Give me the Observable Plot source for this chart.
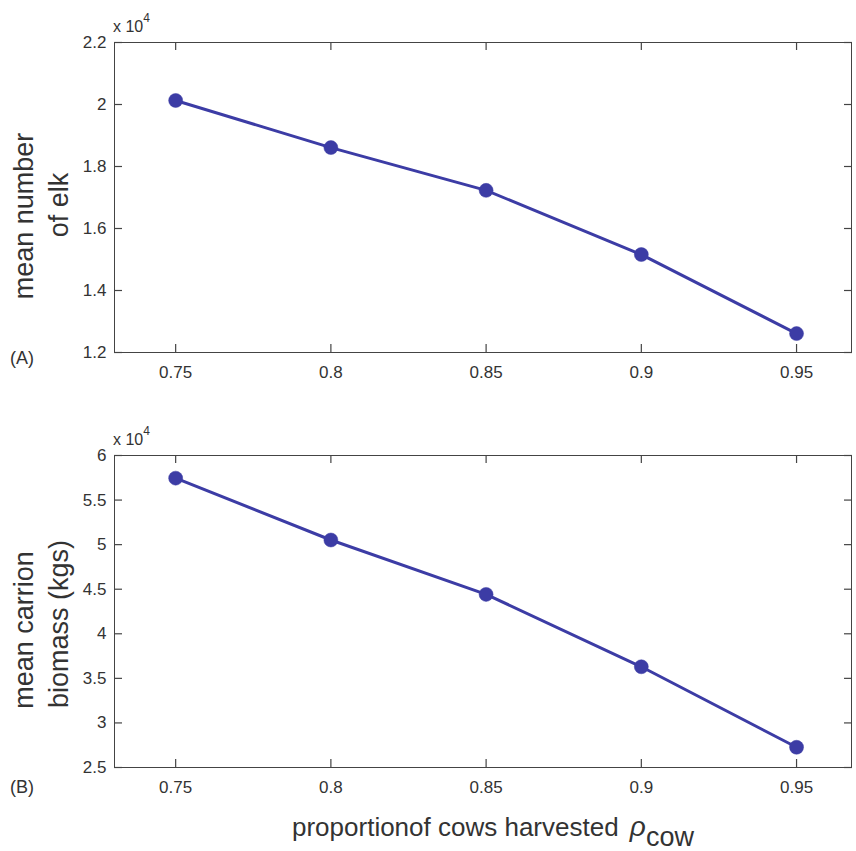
<!DOCTYPE html>
<html><head><meta charset="utf-8">
<script src="https://cdn.jsdelivr.net/npm/d3@7"></script>
<script src="https://cdn.jsdelivr.net/npm/@observablehq/plot@0.6"></script>
<style>
body{margin:0;background:#fff;font-family:"Liberation Sans",Arial,sans-serif;}
svg{display:block}
</style>
</head><body><div id="c"></div>
<script>
const rho = [0.75, 0.8, 0.85, 0.9, 0.95];
const elk = [20130, 18610, 17230, 15160, 12610];
const carrion = [57460, 50520, 44420, 36300, 27270];
const xTicks = [0.75, 0.8, 0.85, 0.9, 0.95];
const xTickLabels = ["0.75", "0.8", "0.85", "0.9", "0.95"];
const elkTicks = [12000, 14000, 16000, 18000, 20000, 22000];
const carrionTicks = [25000, 30000, 35000, 40000, 45000, 50000, 55000, 60000];
const xDomain = [0.7303, 0.9677];

const lineColor = "#3c3ca5";
const ink = "#333";
const axisInk = "#444";
const TL = 8;
const none = () => "";

function panel(values, yTicks, yDomain, height, mt, mb) {
  const data = rho.map((r, i) => ({x: r, y: values[i]}));
  return Plot.plot({
    width: 856, height, marginLeft: 114, marginRight: 5, marginTop: mt, marginBottom: mb,
    style: {fontFamily: '"Liberation Sans", Arial, sans-serif', fontSize: "17px", color: ink, background: "#fff"},
    x: {domain: xDomain},
    y: {domain: yDomain},
    marks: [
      Plot.frame({stroke: axisInk, strokeWidth: 1}),
      // inward ticks on all four sides
      Plot.axisX(xTicks, {anchor: "bottom", tickSize: TL, dy: -TL, tickFormat: none, stroke: axisInk, strokeWidth: 1.2, label: null}),
      Plot.axisX(xTicks, {anchor: "top", tickSize: TL, dy: TL - 1, tickFormat: none, stroke: axisInk, strokeWidth: 1.2, label: null}),
      Plot.axisY(yTicks, {anchor: "left", tickSize: TL, dx: TL, tickFormat: none, stroke: axisInk, strokeWidth: 1.2, label: null}),
      Plot.axisY(yTicks, {anchor: "right", tickSize: TL, dx: -TL, tickFormat: none, stroke: axisInk, strokeWidth: 1.2, label: null}),
      // tick labels
      Plot.axisX(xTicks, {anchor: "bottom", tickSize: 0, tickPadding: 13, tickFormat: (d, i) => xTickLabels[i], fill: ink, label: null, fontSize: 17}),
      Plot.axisY(yTicks, {anchor: "left", tickSize: 0, tickPadding: 8, tickFormat: d => String(d / 1e4), fill: ink, label: null, fontSize: 17}),
      Plot.line(data, {x: "x", y: "y", stroke: lineColor, strokeWidth: 3}),
      Plot.dot(data, {x: "x", y: "y", r: 7, fill: lineColor, stroke: lineColor, strokeWidth: 0.5})
    ]
  });
}

const c = document.getElementById("c");
const A = panel(elk, elkTicks, [12000, 22000], 420, 42, 68);
const B = panel(carrion, carrionTicks, [25000, 60000], 431, 35, 84);
c.appendChild(A); c.appendChild(B);

function addText(svg, x, y, size, opts = {}) {
  return d3.select(svg).append("text")
    .attr("transform", `translate(${x},${y})` + (opts.rotate ? ` rotate(${opts.rotate})` : ""))
    .attr("text-anchor", opts.anchor || "middle")
    .attr("fill", ink)
    .attr("font-family", '"Liberation Sans", Arial, sans-serif')
    .attr("font-size", size);
}

function multiplier(svg, y) {
  const t = addText(svg, 113, y, 16, {anchor: "start"});
  t.append("tspan").text("x 10");
  t.append("tspan").attr("dy", -10).attr("font-size", 12).text("4");
}

// Panel A labels
addText(A, 33, 216, 27, {rotate: -90}).text("mean number");
addText(A, 68, 205, 27, {rotate: -90}).text("of elk");
addText(A, 10, 364, 18, {anchor: "start"}).text("(A)");
multiplier(A, 32);

// Panel B labels
addText(B, 33, 210, 27, {rotate: -90}).text("mean carrion");
addText(B, 68, 204, 27, {rotate: -90}).text("biomass (kgs)");
addText(B, 10, 373, 18, {anchor: "start"}).text("(B)");
multiplier(B, 25);

const xl = addText(B, 292, 416, 26, {anchor: "start"});
xl.append("tspan").text("proportionof cows harvested ");
xl.append("tspan").attr("font-style", "italic").attr("font-size", 28).attr("dx", 4).text("ρ");
xl.append("tspan").attr("dy", 10).attr("font-size", 27).text("cow");
</script>
</body></html>
